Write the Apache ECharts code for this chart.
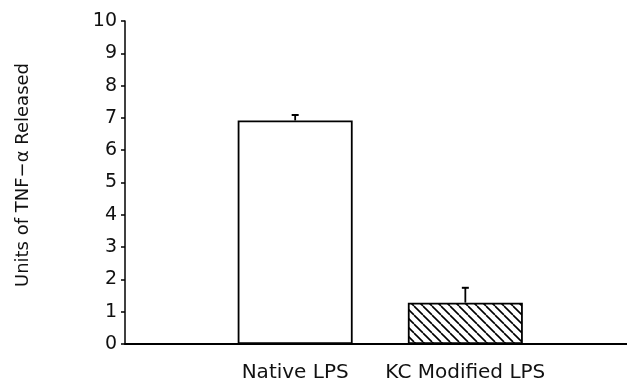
<!DOCTYPE html>
<html>
<head>
<meta charset="utf-8">
<script src="https://cdn.jsdelivr.net/npm/echarts@6/dist/echarts.min.js"></script>
<style>html,body{margin:0;padding:0;background:#fff;}#c{width:627px;height:383px;}</style>
</head>
<body>
<div id="c"></div>
<script>
var categories = ['Native LPS', 'KC Modified LPS'];
var positions = [1, 2];
var means = [6.92, 1.28];
var errors = [0.17, 0.46];
var yTicks = [0,1,2,3,4,5,6,7,8,9,10];

// hatch pattern "\\\"
var pc = document.createElement('canvas');
pc.width = 9; pc.height = 9;
var ctx = pc.getContext('2d');
ctx.fillStyle = '#fff'; ctx.fillRect(0,0,9,9);
ctx.strokeStyle = '#000'; ctx.lineWidth = 1.6;
[-9,0,9].forEach(function(o){ctx.beginPath();ctx.moveTo(o,0);ctx.lineTo(o+9,9);ctx.stroke();});

var font = 'DejaVu Sans';
var chart = echarts.init(document.getElementById('c'), null, {renderer:'canvas'});
chart.setOption({
  animation:false,
  grid:{left:125, right:0, top:21, bottom:39},
  xAxis:{type:'value', min:0, max:2.95, interval:1,
    axisLine:{show:true, lineStyle:{color:'#000', width:2}},
    axisTick:{show:false}, splitLine:{show:false},
    axisLabel:{margin:19, color:'#111', fontSize:20, fontFamily:font, showMaxLabel:false,
      formatter:function(v){var i=positions.indexOf(v);return i>=0?categories[i]:'';}}
  },
  yAxis:{type:'value', min:0, max:10, interval:1,
    name:'Units of TNF\u2212\u03b1 Released', nameLocation:'middle', nameGap:93,
    nameTextStyle:{fontSize:18, fontFamily:font, color:'#111', padding:[0,0,0,15]},
    axisLine:{show:true, lineStyle:{color:'#000', width:1.5}},
    axisTick:{show:true, inside:false, length:4, lineStyle:{color:'#000', width:1.5}},
    splitLine:{show:false},
    axisLabel:{margin:8, color:'#111', fontSize:19, fontFamily:font,
      formatter:function(v){return yTicks.indexOf(v)>=0?String(v):'';}}
  },
  series:[
    {type:'bar', barWidth:115,
      data:[
        {value:[positions[0], means[0]], itemStyle:{color:'#fff', borderColor:'#000', borderWidth:1.8}},
        {value:[positions[1], means[1]], itemStyle:{color:{image:pc, repeat:'repeat'}, borderColor:'#000', borderWidth:1.8}}
      ]
    },
    {type:'custom',
      data: positions.map(function(p,i){return [p, means[i], means[i]+errors[i]];}),
      renderItem:function(params, api){
        var b = api.coord([api.value(0), api.value(1)]);
        var t = api.coord([api.value(0), api.value(2)]);
        return {type:'group', children:[
          {type:'line', shape:{x1:b[0], y1:b[1], x2:t[0], y2:t[1]}, style:{stroke:'#000', lineWidth:1.8}},
          {type:'line', shape:{x1:t[0]-3.5, y1:t[1], x2:t[0]+3.5, y2:t[1]}, style:{stroke:'#000', lineWidth:2}}
        ]};
      }, z:3}
  ]
});
</script>
</body>
</html>
